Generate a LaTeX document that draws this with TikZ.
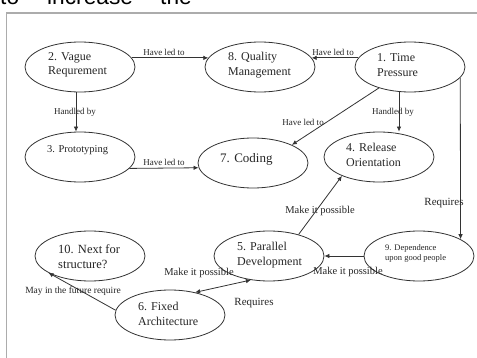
\documentclass[tikz,border=0pt]{standalone}
\usepackage{fontspec}
\setmainfont{Liberation Serif}
\newfontfamily\sansf{Liberation Sans}
\usetikzlibrary{shapes.geometric,arrows.meta}
\begin{document}
\begin{tikzpicture}[x=1pt,y=-1pt,
  ell/.style={draw=black!80, line width=0.8pt, ellipse, minimum width=110pt, minimum height=50pt, inner sep=0pt},
  txt/.style={anchor=west, align=left, inner sep=0pt, text=black!85, font=\fontsize{12}{14.5}\selectfont},
  lbl/.style={inner sep=0pt, text=black!85, font=\fontsize{9}{10}\selectfont},
  arr/.style={draw=black!80, line width=0.8pt, -{Latex[length=5pt,width=4.5pt]}},
  arrboth/.style={draw=black!80, line width=0.8pt, {Latex[length=5pt,width=4.5pt]}-{Latex[length=5pt,width=4.5pt]}},
  toptxt/.style={anchor=base west, inner sep=0pt, font=\sansf\fontsize{22.7}{24}\selectfont},
]
\useasboundingbox (0,0) rectangle (477,358);
\fill[white] (0,0) rectangle (477,358);
\begin{scope}
\clip (0,0) rectangle (477,358);
\node[toptxt] (w1) at (0,5) {to};
\node[toptxt] (w2) at (47,5) {increase};
\node[toptxt] (w3) at (160,5) {the};
\draw[gray!65, line width=1.8pt] (6.5,365) -- (6.5,13) -- (485,13);
\end{scope}

% ellipses
\node[ell] (e2) at (80,67) {};
\node[ell] (e8) at (260,67) {};
\node[ell] (e1) at (410,67) {};
\node[ell] (e3) at (80,157) {};
\node[ell] (e7) at (253,163) {};
\node[ell] (e4) at (379,157) {};
\node[ell] (e5) at (269,256) {};
\node[ell] (e9) at (419,256) {};
\node[ell] (e10) at (90,256) {};
\node[ell] (e6) at (170,315) {};

% texts
\node[txt] (t2) at (48,65) {2. Vague\\Requrement};
\node[txt] (t8) at (228,65) {8. Quality\\Management};
\node[txt] (t1) at (377,65) {1. Time\\Pressure};
\node[txt, font=\fontsize{10.5}{12}\selectfont] (t3) at (47,150) {3. Prototyping};
\node[txt, font=\fontsize{13}{15}\selectfont] (t7) at (220,159) {7. Coding};
\node[txt] (t4) at (346,155) {4. Release\\Orientation};
\node[txt] (t5) at (237,255) {5. Parallel\\Development};
\node[txt, font=\fontsize{8.5}{10}\selectfont] (t9) at (385,253) {9. Dependence\\upon good people};
\node[txt, font=\fontsize{12.5}{15}\selectfont] (t10) at (58,257) {10. Next for\\structure?};
\node[txt] (t6) at (138,314) {6. Fixed\\Architecture};

% connectors
\draw[arr] (e2.10) -- (e8.170);
\draw[arr] (e1.170) -- (e8.10);
\draw[arr] (e2.south -| 76,0) -- (e3.north -| 76,0);
\draw[arr] (e3.-13) -- (e7.185);
\draw[arr] (e1.south -| 399,0) -- (e4.north -| 399,0);
\draw[arr] (e1.214) -- (e7.25);
\draw[arr] (e1.-12) -- (e9.22);
\draw[arr] (e5.36) -- (e4.207);
\draw[arr] (e9.west) -- (e5.east);
\draw[arrboth] (e6.42) -- (e5.233);
\draw[arr] (e6.175) -- (e10.202);

% labels
\node[lbl] (l1) at (164,52) {Have led to};
\node[lbl] (l2) at (333,52) {Have led to};
\node[lbl] (l3) at (75,112) {Handled by};
\node[lbl] (l4) at (164,162) {Have led to};
\node[lbl] (l5) at (393,112) {Handled by};
\node[lbl] (l6) at (303,122) {Have led to};
\node[lbl, font=\fontsize{11}{12}\selectfont] (l7) at (444,203) {Requires};
\node[lbl, font=\fontsize{10.5}{12}\selectfont] (l8) at (320,211) {Make it possible};
\node[lbl, font=\fontsize{10.5}{12}\selectfont] (l9) at (348,272) {Make it possible};
\node[lbl, font=\fontsize{10.5}{12}\selectfont] (l10) at (199,273) {Make it possible};
\node[lbl, font=\fontsize{11}{12}\selectfont] (l11) at (254,303) {Requires};
\node[lbl, font=\fontsize{9.5}{11}\selectfont] (l12) at (73,291) {May in the future require};
\end{tikzpicture}
\end{document}
